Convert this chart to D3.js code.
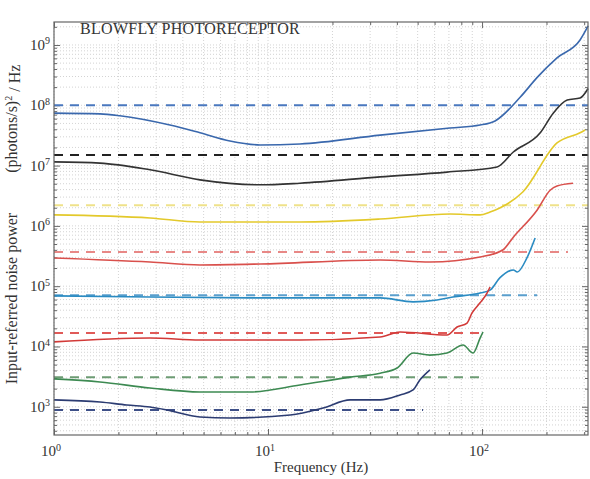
<!DOCTYPE html>
<meta charset="utf-8">
<style>
body { margin: 0; background: #fff; }
text { font-family: 'Liberation Serif', 'DejaVu Serif', serif; fill: #333; }
.grid line { stroke: #c8c8c8; stroke-dasharray: 1,2; stroke-width: 0.8; }
.axis path { display: none; }
.axis line { stroke: #666; }
</style>
<svg id="chart" width="590" height="479"></svg>
<script src="https://d3js.org/d3.v7.min.js"></script>
<script>

// frequency (Hz) and input-referred noise power for each trace
var freqBlue = [1, 1.64, 2.03, 3.48, 4.81, 6.64, 9.18, 14.1, 33.4, 70.8, 97.9, 115, 151, 181, 224, 287, 313];
var powBlue  = [7.4e7, 7.2e7, 6.7e7, 4.7e7, 3.5e7, 2.56e7, 2.2e7, 2.28e7, 3.2e7, 4.2e7, 4.7e7, 5.5e7, 1.37e8, 2.9e8, 6.1e8, 1.21e9, 2.07e9];

var freqBlack = [1, 1.64, 2.81, 4.81, 9.18, 14.1, 33.4, 68.6, 117.5, 140, 187, 215, 250, 287, 313];
var powBlack  = [1.15e7, 1.1e7, 8.5e6, 5.8e6, 4.8e6, 5.1e6, 6.5e6, 7.8e6, 9.5e6, 1.68e7, 3.5e7, 7.4e7, 1.22e8, 1.32e8, 1.9e8];

var freqYellow = [1, 2.81, 4.81, 14.1, 33.4, 70.8, 97.9, 109, 121, 155, 224, 287, 303];
var powYellow  = [1.52e6, 1.35e6, 1.16e6, 1.16e6, 1.3e6, 1.57e6, 1.52e6, 1.7e6, 1.98e6, 3.65e6, 2.37e7, 3.5e7, 3.9e7];

var freqRed = [1, 2.81, 4.81, 9.18, 33.4, 57.1, 97.9, 125, 140, 181, 208, 224, 266];
var powRed  = [2.94e5, 2.52e5, 2.25e5, 2.33e5, 2.72e5, 2.52e5, 3.05e5, 3.98e5, 6.5e5, 1.84e6, 3.9e6, 4.6e6, 5.1e6];

var freqCyan = [1, 2.81, 9.18, 33.4, 47.6, 61.6, 73.1, 97.9, 109, 121, 140, 146, 162, 177];
var powCyan  = [6.9e4, 6.6e4, 6.4e4, 6.4e4, 5.5e4, 5.9e4, 6.6e4, 7.7e4, 8.6e4, 1.37e5, 1.86e5, 1.72e5, 2.94e5, 6.3e5];

var freqRed2 = [1, 2.81, 4.81, 14.1, 33.4, 41.4, 68.6, 76.4, 85.1, 89.8, 97.9, 105.5, 109];
var powRed2  = [1.19e4, 1.38e4, 1.28e4, 1.28e4, 1.44e4, 1.74e4, 1.55e4, 2.1e4, 2.45e4, 3.6e4, 5.3e4, 7.7e4, 9.7e4];

var freqGreen = [1, 1.64, 2.81, 4.81, 8.24, 14.1, 24.2, 33.4, 40.1, 47.6, 57.1, 68.6, 81.5, 90.8, 97.9, 101];
var powGreen  = [2.9e3, 2.58e3, 2.05e3, 1.76e3, 1.76e3, 2.3e3, 3.1e3, 3.6e3, 4.4e3, 7.8e3, 7.2e3, 7.8e3, 1.06e4, 7.8e3, 1.38e4, 1.74e4];

var freqNavy = [1, 1.64, 2.19, 2.81, 3.37, 4.81, 6.64, 12.7, 18.1, 24.2, 33.4, 41.4, 47.6, 51.3, 57.1];
var powNavy  = [1.3e3, 1.2e3, 1.07e3, 990, 885, 678, 652, 731, 955, 1.3e3, 1.3e3, 1.57e3, 1.9e3, 2.8e3, 4.1e3];

// dashed reference levels and the frequency where each stops
var refLevels = [1e8, 1.5e7, 2.2e6, 3.7e5, 7.1e4, 1.67e4, 3.1e3, 885];
var refEnds   = [313, 313, 313, 252, 181, 101, 101, 53];

var xTickExp = [0, 1, 2];
var yTickExp = [3, 4, 5, 6, 7, 8, 9];

var lineColors   = ["#3a68ad", "#333333", "#e3c92b", "#d9504c", "#2a8bc2", "#d23a38", "#3d8a52", "#2c3c72"];
var dashColors   = ["#4a78bf", "#222222", "#efe28a", "#e88886", "#5a9fcd", "#e05a58", "#6d9c74", "#3e5088"];

var traces = [
    [freqBlue, powBlue], [freqBlack, powBlack], [freqYellow, powYellow], [freqRed, powRed],
    [freqCyan, powCyan], [freqRed2, powRed2], [freqGreen, powGreen], [freqNavy, powNavy]
];

var svg = d3.select("#chart"),
    margin = {top: 22, right: 2, bottom: 44, left: 54},
    width = +svg.attr("width") - margin.left - margin.right,
    height = +svg.attr("height") - margin.top - margin.bottom;

var g = svg.append("g").attr("transform", "translate(" + margin.left + "," + margin.top + ")");

var x = d3.scaleLog().domain([1, Math.pow(10, 2.495)]).range([0, width]);
var y = d3.scaleLog().domain([Math.pow(10, 2.532), Math.pow(10, 9.381)]).range([height, 0]);

// dotted grid at every 1..9 multiple
g.append("g").attr("class", "grid")
    .selectAll("line").data(x.ticks()).enter().append("line")
    .attr("x1", function(d) { return x(d); }).attr("x2", function(d) { return x(d); })
    .attr("y1", 0).attr("y2", height);

g.append("g").attr("class", "grid")
    .selectAll("line").data(y.ticks()).enter().append("line")
    .attr("y1", function(d) { return y(d); }).attr("y2", function(d) { return y(d); })
    .attr("x1", 0).attr("x2", width);

// tick marks on all four sides, pointing in
var xMajor = xTickExp.map(function(e) { return Math.pow(10, e); });
var yMajor = yTickExp.map(function(e) { return Math.pow(10, e); });
var xMinor = x.ticks().filter(function(d) { return xMajor.indexOf(d) < 0; });
var yMinor = y.ticks().filter(function(d) { return yMajor.indexOf(d) < 0; });

function ticks(axis, vals, size, tr) {
    g.append("g").attr("class", "axis").attr("transform", tr)
        .call(axis.tickValues(vals).tickSizeInner(size).tickSizeOuter(0).tickFormat(""));
}
ticks(d3.axisBottom(x), xMajor, -6, "translate(0," + height + ")");
ticks(d3.axisBottom(x), xMinor, -3, "translate(0," + height + ")");
ticks(d3.axisTop(x), xMajor, -6, "translate(0,0)");
ticks(d3.axisTop(x), xMinor, -3, "translate(0,0)");
ticks(d3.axisLeft(y), yMajor, -6, "translate(0,0)");
ticks(d3.axisLeft(y), yMinor, -3, "translate(0,0)");
ticks(d3.axisRight(y), yMajor, -6, "translate(" + width + ",0)");
ticks(d3.axisRight(y), yMinor, -3, "translate(" + width + ",0)");

// reference levels
var flatLine = d3.line().x(function(d) { return x(d[0]); }).y(function(d) { return y(d[1]); });
g.selectAll(".ref").data(refLevels).enter().append("path")
    .attr("class", "ref")
    .attr("d", function(d, i) { return flatLine([[1, d], [refEnds[i], d]]); })
    .attr("fill", "none")
    .attr("stroke", function(d, i) { return dashColors[i]; })
    .attr("stroke-width", 2)
    .attr("stroke-dasharray", "9,7");

// measured traces
var traceLine = d3.line()
    .x(function(d) { return x(d[0]); })
    .y(function(d) { return y(d[1]); })
    .curve(d3.curveMonotoneX);

g.selectAll(".trace").data(traces).enter().append("path")
    .attr("class", "trace")
    .attr("d", function(t) { return traceLine(t[0].map(function(f, i) { return [f, t[1][i]]; })); })
    .attr("fill", "none")
    .attr("stroke", function(d, i) { return lineColors[i]; })
    .attr("stroke-width", 1.6)
    .attr("stroke-linejoin", "round");

// frame
g.append("rect").attr("width", width).attr("height", height)
    .attr("fill", "none").attr("stroke", "#666").attr("stroke-width", 1.2);

// tick labels as 10 with superscript
function powLabel(sel) {
    sel.text("10").append("tspan")
        .attr("dy", "-0.55em").attr("font-size", "10px")
        .text(function(d) { return d; });
}
g.selectAll(".xlab").data(xTickExp).enter().append("text")
    .attr("x", function(d) { return x(Math.pow(10, d)) - 3; })
    .attr("y", height + 21)
    .attr("text-anchor", "middle")
    .attr("font-size", "15px")
    .call(powLabel);

g.selectAll(".ylab").data(yTickExp).enter().append("text")
    .attr("x", -4)
    .attr("y", function(d) { return y(Math.pow(10, d)) + 5; })
    .attr("text-anchor", "end")
    .attr("font-size", "15px")
    .call(powLabel);

g.append("text")
    .attr("x", width / 2).attr("y", height + 37)
    .attr("text-anchor", "middle").attr("font-size", "15px")
    .text("Frequency (Hz)");

var yTitle = svg.append("text")
    .attr("transform", "translate(17," + (margin.top + height / 2 - 4) + ") rotate(-90)")
    .attr("text-anchor", "middle").attr("font-size", "16px");
yTitle.append("tspan").text("Input-referred noise power");
yTitle.append("tspan").attr("dx", 40).text("(photons/s)");
yTitle.append("tspan").attr("dy", "-0.5em").attr("font-size", "10px").text("2");
yTitle.append("tspan").attr("dy", "0.5em").text(" / Hz");

g.append("text")
    .attr("x", 26).attr("y", 12)
    .attr("font-size", "16px")
    .attr("letter-spacing", "0.3px")
    .text("BLOWFLY PHOTORECEPTOR");

</script>
